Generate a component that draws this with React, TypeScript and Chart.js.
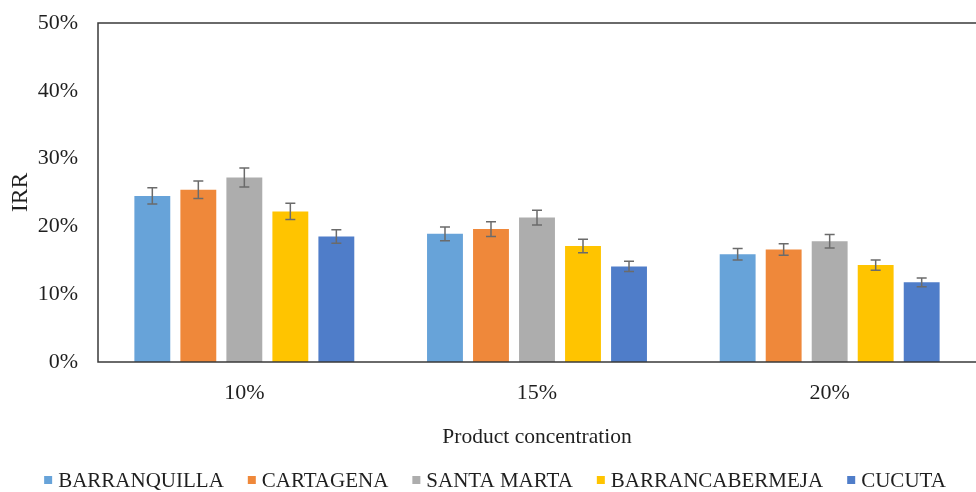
import React, { useEffect, useRef } from 'react';
import { Chart, registerables } from 'chart.js';

Chart.register(...registerables);

const categories = ['10%', '15%', '20%'];
const seriesNames = ['BARRANQUILLA', 'CARTAGENA', 'SANTA MARTA', 'BARRANCABERMEJA', 'CUCUTA'];
const barranquilla = [24.5, 18.9, 15.9];
const cartagena = [25.4, 19.6, 16.6];
const santaMarta = [27.2, 21.3, 17.8];
const barrancabermeja = [22.2, 17.1, 14.3];
const cucuta = [18.5, 14.1, 11.75];
const barranquillaErr = [1.2, 1.0, 0.85];
const cartagenaErr = [1.3, 1.1, 0.85];
const santaMartaErr = [1.4, 1.1, 1.0];
const barrancabermejaErr = [1.2, 1.0, 0.75];
const cucutaErr = [1.0, 0.75, 0.65];
const yTicks = [0, 10, 20, 30, 40, 50];

const colors = ['#67A3D9', '#EF883A', '#ADADAD', '#FFC400', '#4F7DC9'];
const FONT = "'Liberation Serif', 'Times New Roman', serif";
const TEXT = '#1f1f1f';

const frameAndErrors = {
  id: 'frameAndErrors',
  afterDatasetsDraw(chart: any) {
    const { ctx, chartArea, scales } = chart;
    const y = scales.y;
    ctx.save();
    ctx.strokeStyle = '#3a3a3a';
    ctx.lineWidth = 1.5;
    ctx.beginPath();
    ctx.moveTo(chartArea.right + 2, chartArea.top);
    ctx.lineTo(chartArea.left, chartArea.top);
    ctx.lineTo(chartArea.left, chartArea.bottom);
    ctx.lineTo(chartArea.right + 2, chartArea.bottom);
    ctx.stroke();
    ctx.strokeStyle = '#6b6b6b';
    ctx.lineWidth = 1.5;
    chart.data.datasets.forEach((ds: any, i: number) => {
      const meta = chart.getDatasetMeta(i);
      meta.data.forEach((bar: any, j: number) => {
        const v = ds.data[j];
        const e = ds.errors[j];
        const t = y.getPixelForValue(v + e);
        const b = y.getPixelForValue(v - e);
        const x = bar.x;
        const cap = 5;
        ctx.beginPath();
        ctx.moveTo(x, t);
        ctx.lineTo(x, b);
        ctx.moveTo(x - cap, t);
        ctx.lineTo(x + cap, t);
        ctx.moveTo(x - cap, b);
        ctx.lineTo(x + cap, b);
        ctx.stroke();
      });
    });
    ctx.restore();
  },
  afterDraw(chart: any) {
    const { ctx } = chart;
    const ds = chart.data.datasets;
    ctx.save();
    ctx.font = `21px ${FONT}`;
    ctx.textBaseline = 'middle';
    const box = 8;
    const gapText = 6;
    const gapItem = 24;
    const widths = ds.map((d: any) => box + gapText + ctx.measureText(d.label).width);
    const total = widths.reduce((a: number, b: number) => a + b, 0) + gapItem * (ds.length - 1);
    let x = 495 - total / 2;
    const yc = 480;
    ds.forEach((d: any, i: number) => {
      ctx.fillStyle = d.backgroundColor;
      ctx.fillRect(x, yc - box / 2, box, box);
      ctx.fillStyle = TEXT;
      ctx.fillText(d.label, x + box + gapText, yc + 1);
      x += widths[i] + gapItem;
    });
    ctx.restore();
  },
};

export default function App() {
  const ref = useRef<HTMLCanvasElement>(null);
  useEffect(() => {
    const values = [barranquilla, cartagena, santaMarta, barrancabermeja, cucuta];
    const errs = [barranquillaErr, cartagenaErr, santaMartaErr, barrancabermejaErr, cucutaErr];
    const chart = new Chart(ref.current as HTMLCanvasElement, {
      type: 'bar',
      data: {
        labels: categories,
        datasets: seriesNames.map((name, i) => ({
          label: name,
          data: values[i],
          errors: errs[i],
          backgroundColor: colors[i],
          borderWidth: 0,
          categoryPercentage: 0.786,
          barPercentage: 0.78,
        })) as any,
      },
      options: {
        responsive: false,
        animation: false,
        layout: { padding: { top: 23, left: 0, right: 0, bottom: 40 } },
        plugins: { legend: { display: false }, tooltip: { enabled: false } },
        scales: {
          x: {
            grid: { display: false, drawTicks: false },
            border: { display: false },
            ticks: { color: TEXT, font: { family: FONT, size: 22 }, padding: 18 },
            title: {
              display: true,
              text: 'Product concentration',
              color: TEXT,
              font: { family: FONT, size: 21.5 },
              padding: { top: 4, bottom: 2 },
            },
            afterFit(scale: any) {
              scale.height = 90;
              scale.paddingLeft = 0;
              scale.paddingRight = 0;
            },
          },
          y: {
            min: 0,
            max: 50,
            grid: { display: false, drawTicks: false },
            border: { display: false },
            afterBuildTicks(scale: any) {
              scale.ticks = yTicks.map((v) => ({ value: v }));
            },
            ticks: {
              color: TEXT,
              font: { family: FONT, size: 22 },
              padding: 20,
              callback: (v: any) => `${v}%`,
            },
            title: {
              display: true,
              text: 'IRR',
              color: TEXT,
              font: { family: FONT, size: 23.5 },
              padding: { top: 7, bottom: 0 },
            },
            afterFit(scale: any) {
              scale.width = 98;
              scale.paddingTop = 0;
              scale.paddingBottom = 0;
            },
          },
        },
      },
      plugins: [frameAndErrors],
    } as any);
    return () => chart.destroy();
  }, []);
  return (
    <div style={{ position: 'fixed', left: 0, top: 0, width: 976, height: 492, overflow: 'hidden', background: '#fff' }}>
      <canvas ref={ref} width={976} height={492} style={{ display: 'block' }} />
    </div>
  );
}
